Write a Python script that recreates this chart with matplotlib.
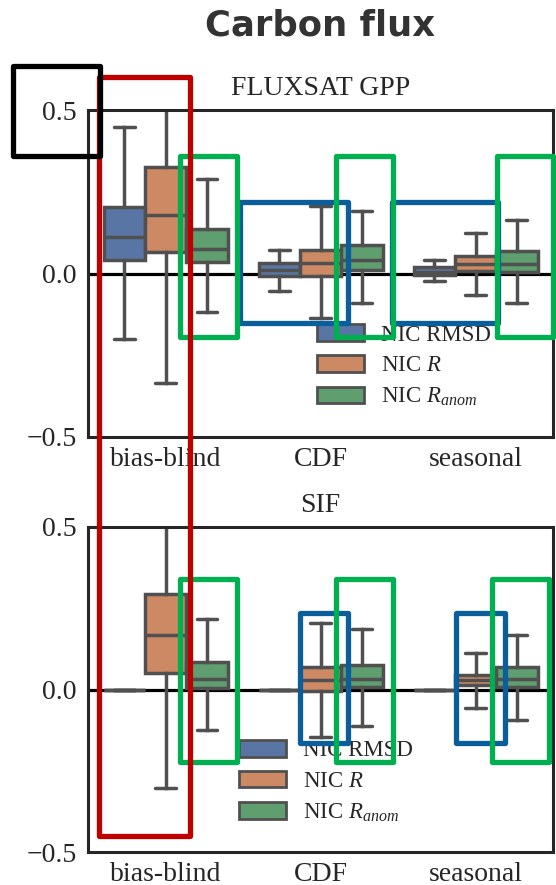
import matplotlib
matplotlib.use("Agg")
import matplotlib.pyplot as plt
from matplotlib.patches import Patch, Rectangle

plt.rcParams["font.family"] = ["Liberation Serif", "DejaVu Serif"]
plt.rcParams["mathtext.fontset"] = "custom"
plt.rcParams["mathtext.rm"] = "Liberation Serif"
plt.rcParams["mathtext.it"] = "Liberation Serif:italic"
plt.rcParams["text.color"] = "#262626"
plt.rcParams["xtick.color"] = "#262626"
plt.rcParams["ytick.color"] = "#262626"

# data: [whisker low, q1, median, q3, whisker high] for each method
methods = ["bias-blind", "CDF", "seasonal"]
metrics = ["NIC RMSD", "NIC $R$", "NIC $R_{anom}$"]
colors = ["#5975a4", "#cc8963", "#5f9e6e"]

gpp_rmsd = [[-0.199, 0.040, 0.111, 0.203, 0.447],
            [-0.052, -0.009, 0.010, 0.031, 0.072],
            [-0.024, -0.006, 0.005, 0.019, 0.040]]
gpp_r = [[-0.335, 0.065, 0.180, 0.327, 0.560],
         [-0.137, -0.009, 0.032, 0.072, 0.205],
         [-0.067, 0.007, 0.030, 0.055, 0.123]]
gpp_ranom = [[-0.118, 0.035, 0.075, 0.137, 0.290],
             [-0.091, 0.011, 0.040, 0.086, 0.190],
             [-0.090, 0.004, 0.028, 0.070, 0.164]]

sif_rmsd = [[0.0, 0.0, 0.0, 0.0, 0.0],
            [0.0, 0.0, 0.0, 0.0, 0.0],
            [0.0, 0.0, 0.0, 0.0, 0.0]]
sif_r = [[-0.304, 0.052, 0.168, 0.294, 0.560],
         [-0.145, -0.004, 0.029, 0.070, 0.206],
         [-0.058, 0.014, 0.029, 0.045, 0.111]]
sif_ranom = [[-0.125, 0.004, 0.031, 0.086, 0.216],
             [-0.112, 0.009, 0.031, 0.075, 0.185],
             [-0.094, 0.007, 0.031, 0.070, 0.168]]

W, H = 556, 885
fig = plt.figure(figsize=(W / 100, H / 100), dpi=100)
fig.text(320.5 / W, 1 - 26 / H, "Carbon flux", ha="center", va="center",
         fontsize=25.5, fontweight="bold", family="DejaVu Sans", color="#333333")

gray = "#505050"
hue_w = 0.8 / 3
lw = 2.5


def panel(ax, title, series, leg_xy):
    ax.axhline(0, color="k", lw=2.3, zorder=1)
    for h, data in enumerate(series):
        stats = []
        for row in data:
            stats.append(dict(whislo=row[0], q1=row[1], med=row[2], q3=row[3],
                              whishi=row[4], fliers=[]))
        pos = [i - 0.4 + hue_w * (h + 0.5) for i in range(len(methods))]
        ax.bxp(stats, positions=pos, widths=hue_w, patch_artist=True,
               showfliers=False, manage_ticks=False,
               boxprops=dict(facecolor=colors[h], edgecolor=gray, lw=lw),
               medianprops=dict(color=gray, lw=lw),
               whiskerprops=dict(color=gray, lw=lw),
               capprops=dict(color=gray, lw=lw, solid_capstyle="round"),
               zorder=2)
    ax.set_xlim(-0.5, 2.5)
    ax.set_ylim(-0.5, 0.5)
    ax.set_yticks([-0.5, 0.0, 0.5])
    ax.set_yticklabels(["\u22120.5", "0.0", "0.5"])
    ax.set_xticks(range(len(methods)))
    ax.set_xticklabels(methods)
    ax.tick_params(length=0, labelsize=20, pad=8)
    ax.tick_params(axis="x", pad=7)
    for s in ax.spines.values():
        s.set_color("#262626")
        s.set_linewidth(2.2)
    ax.set_title(title, fontsize=20, pad=11)
    handles = [Patch(facecolor=c, edgecolor=gray, lw=2.0) for c in colors]
    ax.legend(handles, metrics, loc="upper left", bbox_to_anchor=leg_xy,
              frameon=False, fontsize=16.5, borderpad=0, borderaxespad=0,
              handlelength=2.05, handleheight=0.74, handletextpad=0.75,
              labelspacing=0.42)


ax1 = fig.add_axes([88 / W, 1 - 437 / H, 465 / W, 327 / H])
panel(ax1, "FLUXSAT GPP", [gpp_rmsd, gpp_r, gpp_ranom], (0.492, 0.345))
ax2 = fig.add_axes([88 / W, 1 - 852 / H, 465 / W, 325 / H])
panel(ax2, "SIF", [sif_rmsd, sif_r, sif_ranom], (0.325, 0.345))


# highlight boxes drawn on top, in pixel coordinates (top-left origin)
def frame(x0, y0, x1, y1, color):
    fig.patches.append(Rectangle((x0 / W, 1 - y1 / H), (x1 - x0) / W, (y1 - y0) / H,
                                 transform=fig.transFigure, fill=False,
                                 edgecolor=color, lw=3.8, joinstyle="round",
                                 zorder=10))


blue = "#0b5e9c"
green = "#00b050"
frame(240, 202, 348, 323, blue)
frame(392, 202, 498, 323, blue)
frame(300, 613, 348, 743, blue)
frame(456, 613, 505, 743, blue)
frame(180, 156, 237, 337, green)
frame(336, 156, 393, 337, green)
frame(497, 156, 553, 337, green)
frame(180, 579, 237, 762, green)
frame(336, 579, 393, 762, green)
frame(492, 579, 549, 762, green)
frame(99, 77, 190, 836, "#c00000")
frame(13, 66, 100, 156, "k")

fig.savefig("out.png", dpi=100)
